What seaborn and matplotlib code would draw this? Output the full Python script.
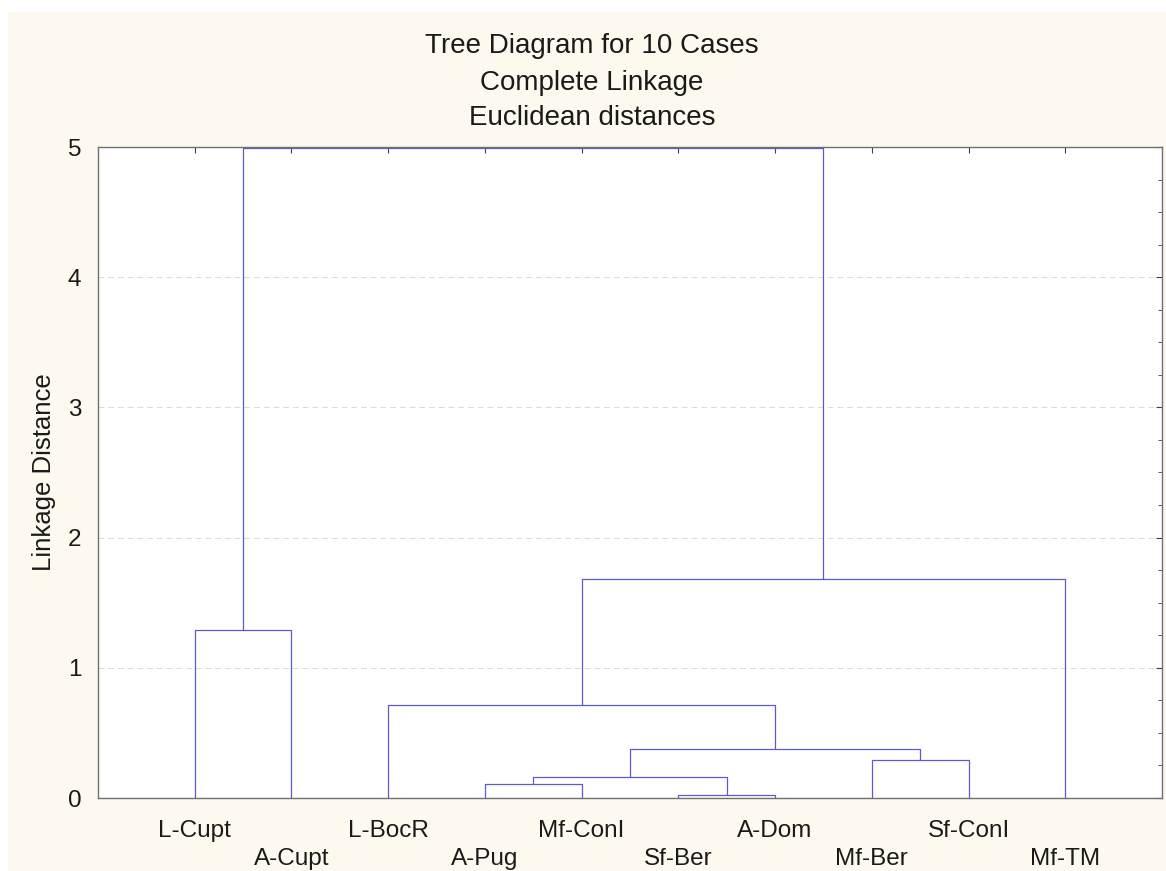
import numpy as np
import pandas as pd
import matplotlib
matplotlib.use("Agg")
import matplotlib.pyplot as plt
from matplotlib.patches import Rectangle
from matplotlib.ticker import MultipleLocator
import seaborn as sns

# leaves in dendrogram order
leaves = ["L-Cupt", "A-Cupt", "L-BocR", "A-Pug", "Mf-ConI",
          "Sf-Ber", "A-Dom", "Mf-Ber", "Sf-ConI", "Mf-TM"]

# merges, scipy-style: ids 0..9 are leaves, 10+ are clusters in merge order
merge_a = [3, 5, 10, 7, 12, 2, 0, 15, 16]
merge_b = [4, 6, 11, 8, 13, 14, 1, 9, 17]
merge_h = [0.105, 0.021, 0.165, 0.293, 0.373, 0.717, 1.29, 1.68, 4.995]

titles = ["Tree Diagram for 10 Cases", "Complete Linkage", "Euclidean distances"]


def dendro_segments():
    xpos = {i: i + 1.0 for i in range(len(leaves))}
    hpos = {i: 0.0 for i in range(len(leaves))}
    rows = []
    for k, (a, b, h) in enumerate(zip(merge_a, merge_b, merge_h)):
        node = len(leaves) + k
        xs = [xpos[a], xpos[a], xpos[b], xpos[b]]
        ys = [hpos[a], h, h, hpos[b]]
        for j, (x, y) in enumerate(zip(xs, ys)):
            rows.append({"seg": k, "order": j, "x": x, "y": y})
        xpos[node] = (xpos[a] + xpos[b]) / 2
        hpos[node] = h
    return pd.DataFrame(rows)


sns.set_style("white")
plt.rcParams["font.family"] = ["Liberation Sans", "DejaVu Sans"]

fig = plt.figure(figsize=(11.66, 8.71), dpi=100)
fig.patch.set_facecolor("white")
fig.patches.append(Rectangle((8 / 1166, 0), 1, (871 - 12) / 871,
                             transform=fig.transFigure, facecolor="#fdf9ef",
                             edgecolor="none", zorder=-10))

ax = fig.add_axes([98 / 1166, 73 / 871, 1064 / 1166, 651 / 871])
ax.set_facecolor("white")

seg = dendro_segments()
sns.lineplot(data=seg, x="x", y="y", units="seg", estimator=None, sort=False,
             color="#5a5ad2", linewidth=0.9, ax=ax, clip_on=False, legend=False)

ax.set_xlim(0, len(leaves) + 1)
ax.set_ylim(0, 5)
ax.set_yticks(range(6))
ax.yaxis.set_minor_locator(MultipleLocator(0.25))
ax.set_xticks(range(1, len(leaves) + 1))
ax.set_xticklabels([l if i % 2 == 0 else "\n" + l for i, l in enumerate(leaves)])
ax.tick_params(axis="both", which="both", direction="in", top=True, right=True,
               color="#404040", labelsize=17.5, labelcolor="#1a1a1a")
ax.tick_params(axis="both", which="major", length=4, width=0.8)
ax.tick_params(axis="y", which="minor", length=3, width=0.6)
ax.tick_params(axis="x", which="major", pad=16)
ax.tick_params(axis="y", which="major", pad=12)
for lab in ax.get_xticklabels():
    lab.set_linespacing(1.32)

ax.yaxis.grid(True, color="#dadada", linestyle=(0, (6, 4)), linewidth=0.7)
ax.xaxis.grid(False)
for sp in ax.spines.values():
    sp.set_color("#707070")
    sp.set_linewidth(1.0)

ax.set_xlabel("")
ax.set_ylabel("Linkage Distance", fontsize=18.5, color="#1a1a1a")
ax.yaxis.set_label_coords(-42 / 1064, 0.5)

for t, yy in zip(titles, [53, 90, 125]):
    fig.text(592 / 1166, 1 - yy / 871, t, ha="center", va="baseline",
             fontsize=20, color="#1a1a1a")

fig.savefig("out.png", dpi=100, facecolor=fig.get_facecolor())
